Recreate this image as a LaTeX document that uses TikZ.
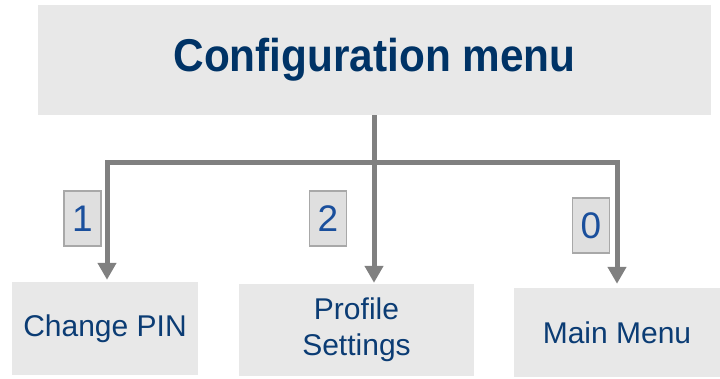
\documentclass[tikz,border=0pt]{standalone}
\usepackage{fontspec}
\setmainfont{Liberation Sans}
\newfontfamily\titlefont[FakeStretch=0.92]{Liberation Sans}
\usetikzlibrary{arrows.meta}
\definecolor{boxgray}{HTML}{E8E8E8}
\definecolor{linegray}{HTML}{808080}
\definecolor{navy}{HTML}{003366}
\definecolor{textblue}{HTML}{0B3C74}
\definecolor{digitblue}{HTML}{1A4F9C}
\definecolor{keyfill}{HTML}{DFDFDF}
\definecolor{keyedge}{HTML}{A8A8A8}
\begin{document}
\begin{tikzpicture}[x=1pt,y=-1pt,
  menubox/.style={fill=boxgray,draw=none,inner sep=0pt,align=center,text=textblue,font=\fontsize{30}{36}\selectfont},
  keybox/.style={fill=keyfill,draw=keyedge,line width=1.2pt,inner sep=0pt,text=digitblue,font=\fontsize{37}{40}\selectfont,minimum width=37pt,minimum height=55pt},
  conn/.style={draw=linegray,line width=5pt},
  arr/.style={conn,-{Triangle[width=18pt,length=17pt]}}
]
\useasboundingbox (0,0) rectangle (720,378);
\node[menubox,minimum width=673pt,minimum height=110pt,text=navy,font=\titlefont\bfseries\fontsize{46}{50}\selectfont] (top) at (374.5,60) {Configuration menu};
\node[menubox,minimum width=186pt,minimum height=93pt] (cpin) at (105,328.5) {Change PIN};
\node[menubox,minimum width=235pt,minimum height=92pt] (prof) at (356.5,330) {Profile\\Settings};
\node[menubox,minimum width=206pt,minimum height=89pt] (mainm) at (617,332.5) {\raisebox{-3pt}{Main Menu}};
\coordinate (jc) at (374,162.5);
\coordinate (jl) at (107,162.5);
\coordinate (jr) at (617,162.5);
\draw[conn] (top.south -| jc) -- (jc);
\draw[conn,line join=miter] (jl |- cpin.north) ++(0,-60) -- (jl) -- (jr) -- ++(0,60);
\draw[arr,shorten >=2pt] (jl) -- (jl |- cpin.north);
\draw[arr,shorten >=1pt] (jc) -- (jc |- prof.north);
\draw[arr,shorten >=4pt] (jr) -- (jr |- mainm.north);
\node[keybox] (k1) at (82.5,218.5) {1};
\node[keybox] (k2) at (328,218.5) {2};
\node[keybox] (k0) at (591,225.5) {0};
\end{tikzpicture}
\end{document}
